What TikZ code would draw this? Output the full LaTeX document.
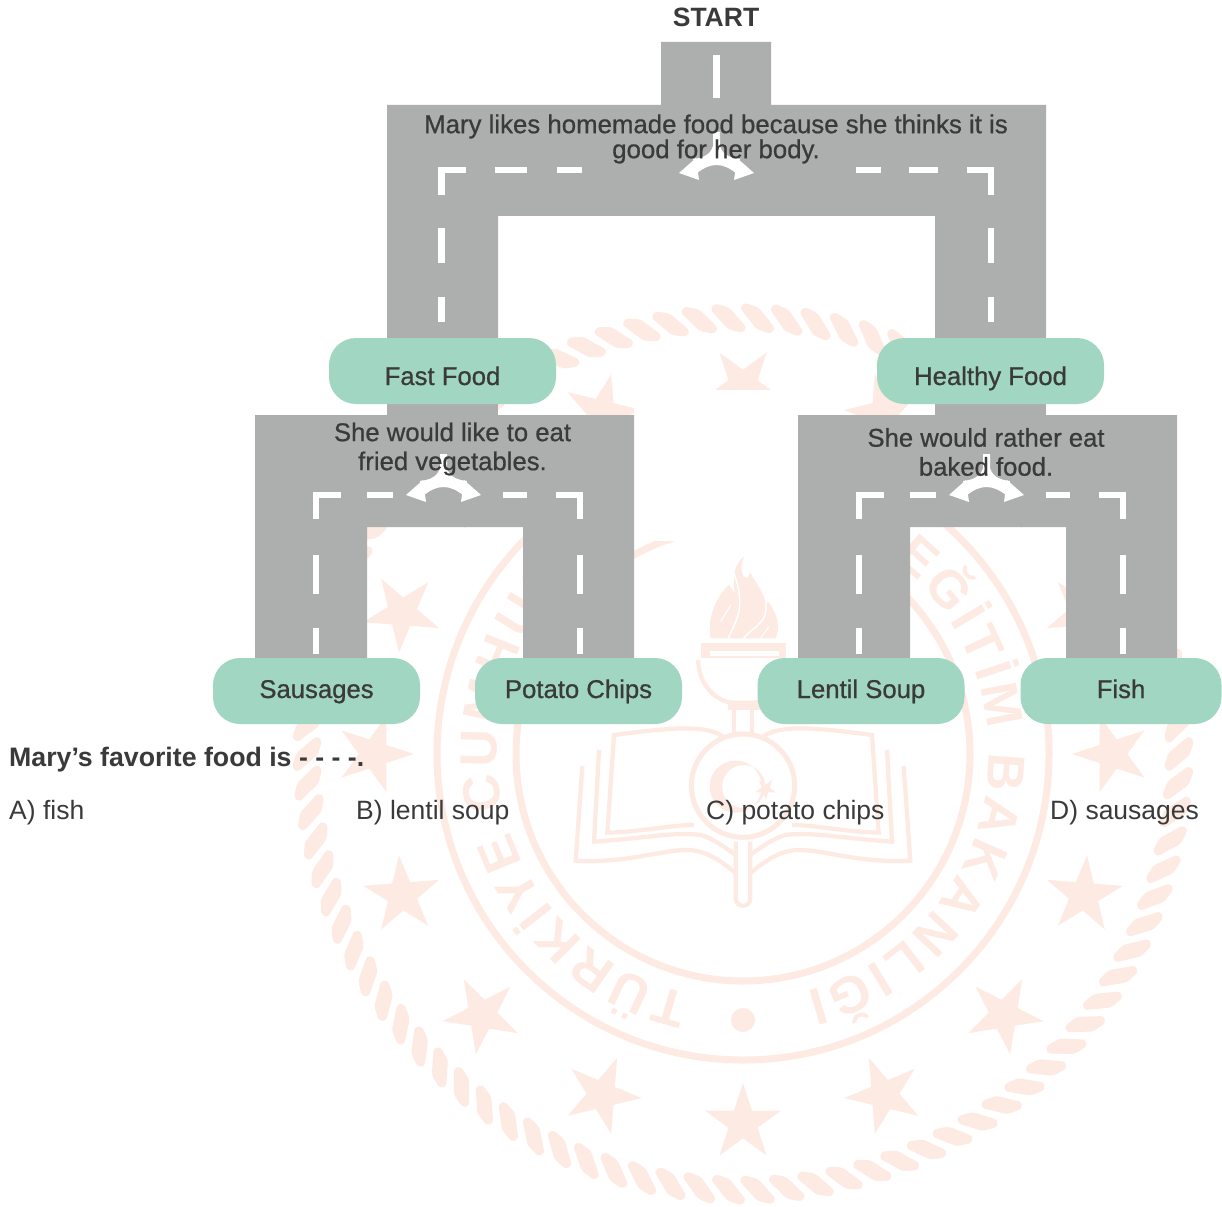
\documentclass[tikz,border=0pt]{standalone}
\usepackage{fontspec}
\setmainfont{Liberation Sans}
\newfontfamily\medf[FakeBold=0.7]{Liberation Sans}
\newfontfamily\sealf{Liberation Sans Bold}
\usetikzlibrary{decorations.text}
\definecolor{sealc}{HTML}{FDEAE2}
\definecolor{roadc}{HTML}{ADAFAE}
\definecolor{tealc}{HTML}{A0D6C2}
\definecolor{inkc}{HTML}{3A3A3A}
\tikzset{
  x=1pt,y=1pt,
  sealfill/.style={fill=sealc,draw=none},
  sealline/.style={draw=sealc,line width=4.2pt},
  road/.style={fill=roadc,draw=none},
  roadmark/.style={fill=white,draw=none},
  choice/.style={fill=tealc,draw=none,rounded corners=27pt,minimum height=66pt,inner sep=0pt,text=inkc,font=\medf\fontsize{25.7}{30}\selectfont},
  choicetop/.style={choice,minimum width=227pt,text height=46pt,text depth=18pt},
  choicelow/.style={choice,minimum width=207pt,text height=32pt,text depth=18pt},
  roadtext/.style={text=inkc,align=center,inner sep=0pt,font=\medf\fontsize{25.8}{25}\selectfont},
  plain/.style={text=inkc,inner sep=0pt,anchor=base west,font=\fontsize{26.5}{30}\selectfont},
}
\newcommand{\forkmark}[2]{%
  \begin{scope}[xshift=#1,yshift=#2]
    \fill[roadmark] (440,-454) -- (447,-454) -- (447,-468) .. controls (450,-478) and (459,-480) .. (467,-481) -- (464,-496) .. controls (457,-490) and (450,-487) .. (443.5,-487) .. controls (437,-487) and (430,-490) .. (423,-496) -- (420,-481) .. controls (428,-480) and (437,-478) .. (440,-468) -- cycle;
    \fill[roadmark] (406,-495) -- (423,-480) -- (426,-502) -- cycle;
    \fill[roadmark] (481,-495) -- (464,-480) -- (461,-502) -- cycle;
  \end{scope}}
\begin{document}
\begin{tikzpicture}
\useasboundingbox (0,0) rectangle (1222,-1206);
\fill[white] (0,0) rectangle (1222,-1206);
% ---------- seal ----------
\foreach \k in {0,...,93}{
  \pgfmathsetmacro\ang{\k*3.82979}
  \begin{scope}[shift={(743,-754)},rotate=\ang,shift={(436,0)},rotate=52]
    \fill[sealfill,rounded corners=3pt] (-20,-3.5) -- (-20,3.5) -- (-6,9) -- (20,3.5) -- (20,-3.5) -- (6,-9) -- cycle;
  \end{scope}}
\foreach \k in {0,...,15}{
  \pgfmathsetmacro\ang{270+22.5*\k}
  \begin{scope}[shift={(743,-754)},rotate=\ang,shift={(369,0)}]
    \fill[sealfill] (180:40) -- (216:15.3) -- (252:40) -- (288:15.3) -- (324:40) -- (0:15.3) -- (36:40) -- (72:15.3) -- (108:40) -- (144:15.3) -- cycle;
  \end{scope}}
\draw[sealline,line width=7pt] (743,-754) circle[radius=306];
\draw[sealline,line width=7pt] (743,-754) circle[radius=227];
\path[decorate,decoration={text along path,text align={fit to path},
   text={|\sealf\fontsize{52}{52}\selectfont\color{sealc}|TÜRKİYE CUMHURİYETİ MİLLİ EĞİTİM BAKANLIĞI}}]
   (743,-754) ++(257.5:246) arc[start angle=257.5,end angle=-75,radius=246];
\fill[sealfill] (743,-1020) circle[radius=12];
\fill[white] (634,-390) rectangle (798,-541);
% emblem, in crop coordinates about the axis x = 743
\foreach \s in {1,-1}{
  \begin{scope}[shift={(743,-520)},x=0.3333pt,y=-0.3333pt,xscale=\s]
    \draw[sealline] (-57,652) .. controls (-107,615) and (-197,620) .. (-387,645) -- (-407,938) .. controls (-297,935) and (-217,915) .. (-147,915);
    \draw[sealline] (-432,690) -- (-447,965) .. controls (-297,955) and (-207,935) .. (-127,945) .. controls (-90,955) and (-50,985) .. (-22,1005);
    \draw[sealline] (-482,738) -- (-502,1022) .. controls (-347,1030) and (-247,990) .. (-167,990) .. controls (-117,990) and (-67,1020) .. (-22,1060);
    \draw[sealline] (-135,420) .. controls (-132,500) and (-77,545) .. (-32,548) -- (0,548);
    \draw[sealline] (-28,555) -- (-28,640);
  \end{scope}}
\begin{scope}[shift={(743,-520)},x=0.3333pt,y=-0.3333pt]
  \draw[sealline,line width=5pt] (0,797) circle[radius=155];
  \draw[sealline] (-22,965) -- (-22,1135) .. controls (-22,1165) and (22,1165) .. (22,1135) -- (22,965);
  \fill[sealfill] (-125,370) rectangle (130,415);
  \fill[white] (-99,392) rectangle (108,408);
  \fill[sealfill] (-44,545) rectangle (53,570);
  \fill[sealfill,even odd rule] (-22,800) circle[radius=78] (2,800) circle[radius=65];
  \begin{scope}[shift={(68,807)}]
    \fill[sealfill] (90:33) -- (126:13) -- (162:33) -- (198:13) -- (234:33) -- (270:13) -- (306:33) -- (342:13) -- (18:33) -- (54:13) -- cycle;
  \end{scope}
  \fill[sealfill] (-97,355) .. controls (-109,290) and (-77,225) .. (-42,195) .. controls (-35,205) and (-27,215) .. (-25,225) .. controls (-27,190) and (-37,140) .. (3,110) .. controls (-12,150) and (-2,175) .. (13,175) .. controls (18,165) and (20,160) .. (23,160) .. controls (38,190) and (63,215) .. (68,255) -- (75,245) .. controls (103,280) and (113,320) .. (98,355) -- cycle;
  \draw[white,line width=1.6pt] (-44,355) .. controls (-27,310) and (13,270) .. (-27,160);
  \draw[white,line width=1.6pt] (1,355) .. controls (43,310) and (73,310) .. (68,250);
  \draw[white,line width=1pt] (-67,305) -- (-37,255);
  \draw[white,line width=1pt] (53,355) -- (78,320);
\end{scope}
% ---------- roads ----------
\fill[road] (661,-42) -- (771,-42) -- (771,-105) -- (1046,-105) -- (1046,-345) -- (935,-345) -- (935,-216) -- (498,-216) -- (498,-345) -- (387,-345) -- (387,-105) -- (661,-105) -- cycle;
\fill[road] (387,-400) rectangle (498,-416);
\fill[road] (935,-400) rectangle (1046,-416);
\foreach \dx in {0,543}{
  \begin{scope}[xshift=\dx]
    \fill[road] (255,-415) -- (634,-415) -- (634,-662) -- (523,-662) -- (523,-527) -- (367,-527) -- (367,-662) -- (255,-662) -- cycle;
    \fill[roadmark] (313,-492) rectangle (341,-498);
    \fill[roadmark] (313,-492) rectangle (319,-519);
    \fill[roadmark] (367,-492) rectangle (393,-498);
    \fill[roadmark] (503,-492) rectangle (527,-498);
    \fill[roadmark] (556,-492) rectangle (583,-498);
    \fill[roadmark] (577,-492) rectangle (583,-519);
    \fill[roadmark] (313,-555) rectangle (319,-594);
    \fill[roadmark] (313,-628) rectangle (319,-654);
    \fill[roadmark] (577,-555) rectangle (583,-594);
    \fill[roadmark] (577,-628) rectangle (583,-654);
  \end{scope}}
\fill[roadmark] (713,-55) rectangle (720,-98);
\fill[roadmark] (438,-167) rectangle (466,-173);
\fill[roadmark] (438,-167) rectangle (445,-195);
\fill[roadmark] (495,-167) rectangle (527,-173);
\fill[roadmark] (557,-167) rectangle (582,-173);
\fill[roadmark] (856,-167) rectangle (881,-173);
\fill[roadmark] (909,-167) rectangle (938,-173);
\fill[roadmark] (967,-167) rectangle (994,-173);
\fill[roadmark] (988,-167) rectangle (994,-195);
\fill[roadmark] (438,-228) rectangle (445,-263);
\fill[roadmark] (438,-297) rectangle (445,-322);
\fill[roadmark] (988,-228) rectangle (994,-263);
\fill[roadmark] (988,-297) rectangle (994,-322);
\forkmark{273}{322}
\forkmark{0}{0}
\forkmark{543}{0}
% ---------- texts ----------
\node[plain,anchor=base,font=\bfseries\fontsize{26.5}{30}\selectfont] (start) at (716,-27) {START};
\node[roadtext] (q1) at (716,-139) {Mary likes homemade food because she thinks it is\\good for her body.};
\node[roadtext,font=\medf\fontsize{25.7}{29}\selectfont] (q2) at (452.5,-449) {She would like to eat\\ fried vegetables.};
\node[roadtext,font=\medf\fontsize{25.7}{29}\selectfont] (q3) at (986,-452) {She would rather eat\\baked food.};
\node[choicetop] (fast) at (442.5,-371) {Fast Food};
\node[choicetop] (healthy) at (990.5,-371) {Healthy Food};
\node[choicelow] (saus) at (316.5,-691) {Sausages};
\node[choicelow] (chips) at (578.5,-691) {Potato Chips};
\node[choicelow] (soup) at (861,-691) {Lentil Soup};
\node[choicelow,minimum width=201pt] (fish) at (1121,-691) {Fish};
\node[plain,font=\bfseries\fontsize{26.7}{30}\selectfont] (ask) at (9,-766) {Mary’s favorite food is - - - -.};
\node[plain] (a) at (9,-819) {A) fish};
\node[plain] (b) at (356,-819) {B) lentil soup};
\node[plain] (c) at (706,-819) {C) potato chips};
\node[plain] (d) at (1050,-819) {D) sausages};
\end{tikzpicture}
\end{document}
